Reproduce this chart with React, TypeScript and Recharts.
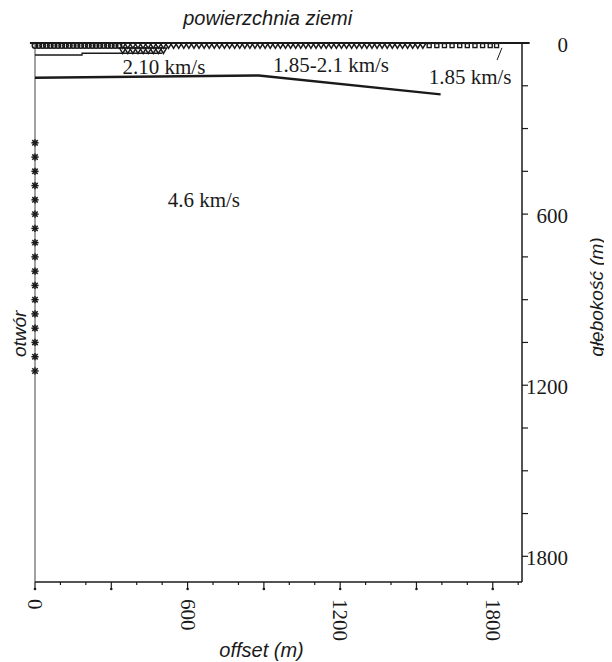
import { ComposedChart, XAxis, YAxis, Scatter, Line, ReferenceLine, ReferenceDot, Label } from 'recharts';

const SERIF = '"Liberation Serif", "Times New Roman", serif';
const SANS = '"Liberation Sans", Arial, sans-serif';
const INK = '#1a1a1a';

// surface receivers / shots, offset in m
const surfaceCircles = [0, 15, 30, 45, 60, 75, 90, 105, 120, 135, 150, 165, 180, 195, 210, 225, 240, 255, 270, 285, 300, 315, 330];
const surfaceTriangles = [
  345, 365, 385, 405, 425, 445, 465, 485, 505, 525, 545, 565, 585, 605, 625, 645, 665, 685, 705, 725,
  745, 765, 785, 805, 825, 845, 865, 885, 905, 925, 945, 965, 985, 1005, 1025, 1045, 1065, 1085, 1105, 1125,
  1145, 1165, 1185, 1205, 1225, 1245, 1265, 1285, 1305, 1325, 1345, 1365, 1385, 1405, 1425, 1445, 1465, 1485, 1505, 1525,
];
const lowerTriangles = [345, 365, 385, 405, 425, 445, 465, 485, 505];
const surfaceSquares = [1550, 1580, 1610, 1640, 1670, 1700, 1730, 1760, 1790, 1815];
const surfaceDepth = 9;
const lowerRowDepth = 27;

// borehole receivers, depth in m
const boreholeDepths = [350, 400, 450, 500, 550, 600, 650, 700, 750, 800, 850, 900, 950, 1000, 1050, 1100, 1150];

// layer boundaries (offset, depth)
const weatheringLine = [
  { x: 0, y: 42 },
  { x: 185, y: 42 },
  { x: 185, y: 36 },
  { x: 500, y: 36 },
];
const refractorLine = [
  { x: 0, y: 122 },
  { x: 880, y: 114 },
  { x: 1595, y: 180 },
];
const leaderLine = [
  { x: 1836, y: 17 },
  { x: 1817, y: 60 },
];

const xTicks = [0, 100, 200, 300, 400, 500, 600, 700, 800, 900, 1000, 1100, 1200, 1300, 1400, 1500, 1600, 1700, 1800, 1900];
const xLabels = [0, 600, 1200, 1800];
const yTicks = [0, 150, 300, 450, 600, 750, 900, 1050, 1200, 1350, 1500, 1650, 1800];
const yLabels = [0, 600, 1200, 1800];

const circles = surfaceCircles.map((x) => ({ x, y: surfaceDepth }));
const triangles = surfaceTriangles.map((x) => ({ x, y: surfaceDepth }));
const triangles2 = lowerTriangles.map((x) => ({ x, y: lowerRowDepth }));
const squares = surfaceSquares.map((x) => ({ x, y: surfaceDepth }));
const borehole = boreholeDepths.map((y) => ({ x: 0, y }));

const CircleShape = (p: any) => <circle cx={p.cx} cy={p.cy} r={2.7} fill="none" stroke={INK} strokeWidth={1.6} />;
const TriangleShape = (p: any) => (
  <path
    d={`M${p.cx - 3.2},${p.cy - 2.6} L${p.cx + 3.2},${p.cy - 2.6} L${p.cx},${p.cy + 2.8} Z`}
    fill="none"
    stroke={INK}
    strokeWidth={1.5}
  />
);
const SquareShape = (p: any) => (
  <rect x={p.cx - 2} y={p.cy - 2} width={4} height={4} fill="none" stroke={INK} strokeWidth={1.4} />
);
const AsteriskShape = (p: any) => {
  const { cx, cy } = p;
  const s = 3.6;
  return (
    <g stroke={INK} strokeWidth={1.5}>
      <line x1={cx - s} y1={cy} x2={cx + s} y2={cy} />
      <line x1={cx} y1={cy - s} x2={cx} y2={cy + s} />
      <line x1={cx - s * 0.75} y1={cy - s * 0.75} x2={cx + s * 0.75} y2={cy + s * 0.75} />
      <line x1={cx - s * 0.75} y1={cy + s * 0.75} x2={cx + s * 0.75} y2={cy - s * 0.75} />
    </g>
  );
};

function XTick(props: any) {
  const { x, y, payload } = props;
  const v = payload.value;
  const major = v % 300 === 0;
  return (
    <g>
      <line x1={x} y1={y} x2={x} y2={y + (major ? 7 : 3)} stroke={INK} strokeWidth={1.2} />
      {major && <circle cx={x} cy={y + 7} r={1.3} fill={INK} />}
      {xLabels.includes(v) && (
        <text
          x={x}
          y={y + 17}
          transform={`rotate(90 ${x} ${y + 17})`}
          textAnchor="start"
          dominantBaseline="central"
          fontFamily={SERIF}
          fontSize={21}
          fill={INK}
        >
          {v}
        </text>
      )}
    </g>
  );
}

function YTick(props: any) {
  const { x, y, payload } = props;
  const v = payload.value;
  return (
    <g>
      <line x1={x} y1={y} x2={x + 6} y2={y} stroke={INK} strokeWidth={1.2} />
      {yLabels.includes(v) && (
        <text x={x + 46} y={y + 2} textAnchor="end" dominantBaseline="central" fontFamily={SERIF} fontSize={21} fill={INK}>
          {v}
        </text>
      )}
    </g>
  );
}

const textStyle = { fontFamily: SERIF, fontSize: 21, fill: INK };

export default function App() {
  return (
    <ComposedChart
      width={604}
      height={654}
      margin={{ top: 35, right: 0, bottom: 0, left: 27 }}
      style={{ overflow: 'visible' }}
    >
      <XAxis
        type="number"
        dataKey="x"
        domain={[0, 1915]}
        ticks={xTicks}
        interval={0}
        tickSize={0}
        tickMargin={0}
        tickLine={false}
        tick={<XTick />}
        height={80}
        axisLine={{ stroke: INK, strokeWidth: 1.5 }}
      >
        <Label
          content={(p: any) => (
            <text
              x={p.viewBox.x + p.viewBox.width / 2 - 17}
              y={p.viewBox.y + 68}
              textAnchor="middle"
              dominantBaseline="central"
              fontFamily={SANS}
              fontStyle="italic"
              fontSize={20}
              fill={INK}
            >
              offset (m)
            </text>
          )}
        />
      </XAxis>
      <YAxis
        type="number"
        dataKey="y"
        orientation="right"
        reversed
        domain={[0, 1890]}
        ticks={yTicks}
        interval={0}
        tickSize={0}
        tickMargin={0}
        tickLine={false}
        tick={<YTick />}
        width={90}
        axisLine={{ stroke: INK, strokeWidth: 1.5 }}
      >
        <Label
          content={(p: any) => {
            const cx = p.viewBox.x + 74;
            const cy = 289;
            return (
              <text
                x={cx}
                y={cy}
                transform={`rotate(-90 ${cx} ${cy})`}
                textAnchor="middle"
                dominantBaseline="central"
                fontFamily={SANS}
                fontStyle="italic"
                fontSize={19}
                fill={INK}
              >
                głębokość (m)
              </text>
            );
          }}
        />
      </YAxis>

      <ReferenceLine x={0} stroke="#444" strokeWidth={1} />
      <ReferenceLine
        segment={[
          { x: -20, y: 0 },
          { x: 1945, y: 0 },
        ]}
        ifOverflow="visible"
        stroke={INK}
        strokeWidth={2}
      />

      <Line data={weatheringLine} dataKey="y" type="linear" dot={false} stroke={INK} strokeWidth={1.3} isAnimationActive={false} />
      <Line data={refractorLine} dataKey="y" type="linear" dot={false} stroke={INK} strokeWidth={2.4} isAnimationActive={false} />
      <Line data={leaderLine} dataKey="y" type="linear" dot={false} stroke={INK} strokeWidth={1} isAnimationActive={false} />

      <Scatter data={circles} dataKey="y" shape={CircleShape} isAnimationActive={false} />
      <Scatter data={triangles} dataKey="y" shape={TriangleShape} isAnimationActive={false} />
      <Scatter data={triangles2} dataKey="y" shape={TriangleShape} isAnimationActive={false} />
      <Scatter data={squares} dataKey="y" shape={SquareShape} isAnimationActive={false} />
      <Scatter data={borehole} dataKey="y" shape={AsteriskShape} isAnimationActive={false} />

      <ReferenceDot x={507} y={81} r={0} fill="none" stroke="none" label={{ value: '2.10 km/s', position: 'center', ...textStyle }} />
      <ReferenceDot x={1164} y={77} r={0} fill="none" stroke="none" label={{ value: '1.85-2.1 km/s', position: 'center', ...textStyle }} />
      <ReferenceDot x={1711} y={116} r={0} fill="none" stroke="none" label={{ value: '1.85 km/s', position: 'center', ...textStyle }} />
      <ReferenceDot x={664} y={550} r={0} fill="none" stroke="none" label={{ value: '4.6 km/s', position: 'center', ...textStyle }} />
      <ReferenceDot
        x={915}
        y={-88}
        r={0}
        ifOverflow="visible"
        fill="none"
        stroke="none"
        label={{ value: 'powierzchnia ziemi', position: 'center', fontFamily: SANS, fontStyle: 'italic', fontSize: 20, fill: INK }}
      />
      <ReferenceDot
        x={-60}
        y={1020}
        r={0}
        ifOverflow="visible"
        fill="none"
        stroke="none"
        label={{ value: 'otwór', position: 'center', angle: -90, fontFamily: SANS, fontStyle: 'italic', fontSize: 19, fill: INK }}
      />
    </ComposedChart>
  );
}
